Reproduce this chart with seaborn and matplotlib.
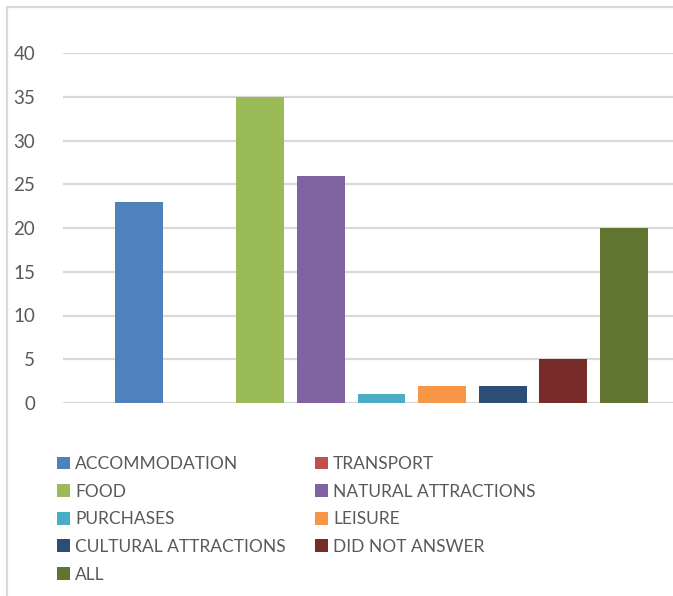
import matplotlib
matplotlib.use("Agg")
import matplotlib.pyplot as plt
import seaborn as sns
import pandas as pd
from matplotlib.patches import Patch
from matplotlib.lines import Line2D

categories = ["ACCOMMODATION", "TRANSPORT", "FOOD", "NATURAL ATTRACTIONS",
              "PURCHASES", "LEISURE", "CULTURAL ATTRACTIONS", "DID NOT ANSWER", "ALL"]
values = [23, 0, 35, 26, 1, 2, 2, 5, 20]
colors = ["#4F81BD", "#C0504D", "#9BBB59", "#8064A2", "#4BACC6",
          "#F79646", "#2C4D75", "#772C2A", "#5F7530"]
yticks = [0, 5, 10, 15, 20, 25, 30, 35, 40]

sns.set_theme(style="white")
plt.rcParams['font.family'] = ['Lato', 'DejaVu Sans']
fs = 12.5

df = pd.DataFrame({"category": categories, "value": values})

W, H = 673, 596
fig = plt.figure(figsize=(W / 100, H / 100), dpi=100)
ax = fig.add_axes([63 / W, 1 - 403 / H, (673 - 63) / W, (403 - 53) / H])

sns.barplot(data=df, x="category", y="value", hue="category", palette=colors,
            width=0.79, dodge=False, legend=False, ax=ax, saturation=1,
            linewidth=0)

ax.set_ylim(0, 40)
ax.set_xlim(-1.254, 8.81)
ax.set_yticks(yticks)
ax.set_yticklabels([str(t) for t in yticks], fontsize=13.5, color="#595959")
ax.tick_params(axis="y", length=0, pad=20)
ax.set_xticks([])
ax.set_xlabel("")
ax.set_ylabel("")
for s in ax.spines.values():
    s.set_visible(False)
ax.yaxis.grid(True, color="#d9d9d9", linewidth=1.6)
ax.set_axisbelow(True)

fig.add_artist(Line2D([7 / W, 7 / W], [0, 1 - 7 / H], transform=fig.transFigure,
                      color="#d9d9d9", linewidth=1.6))
fig.add_artist(Line2D([7 / W, 1], [1 - 7 / H, 1 - 7 / H], transform=fig.transFigure,
                      color="#d9d9d9", linewidth=1.6))

# legend: two columns, row-major order
col_x = [57, 315]
for c in range(2):
    idx = list(range(c, len(categories), 2))
    handles = [Patch(facecolor=colors[i], edgecolor="none") for i in idx]
    labels = [categories[i] for i in idx]
    fig.legend(handles, labels, ncol=1, loc="upper left",
               bbox_to_anchor=(col_x[c] / W, 1 - 456 / H), frameon=False,
               fontsize=fs, labelcolor="#595959", handlelength=0.75,
               handleheight=0.75, handletextpad=0.3,
               labelspacing=0.67, borderaxespad=0, borderpad=0)

fig.savefig("out.png", dpi=100)
